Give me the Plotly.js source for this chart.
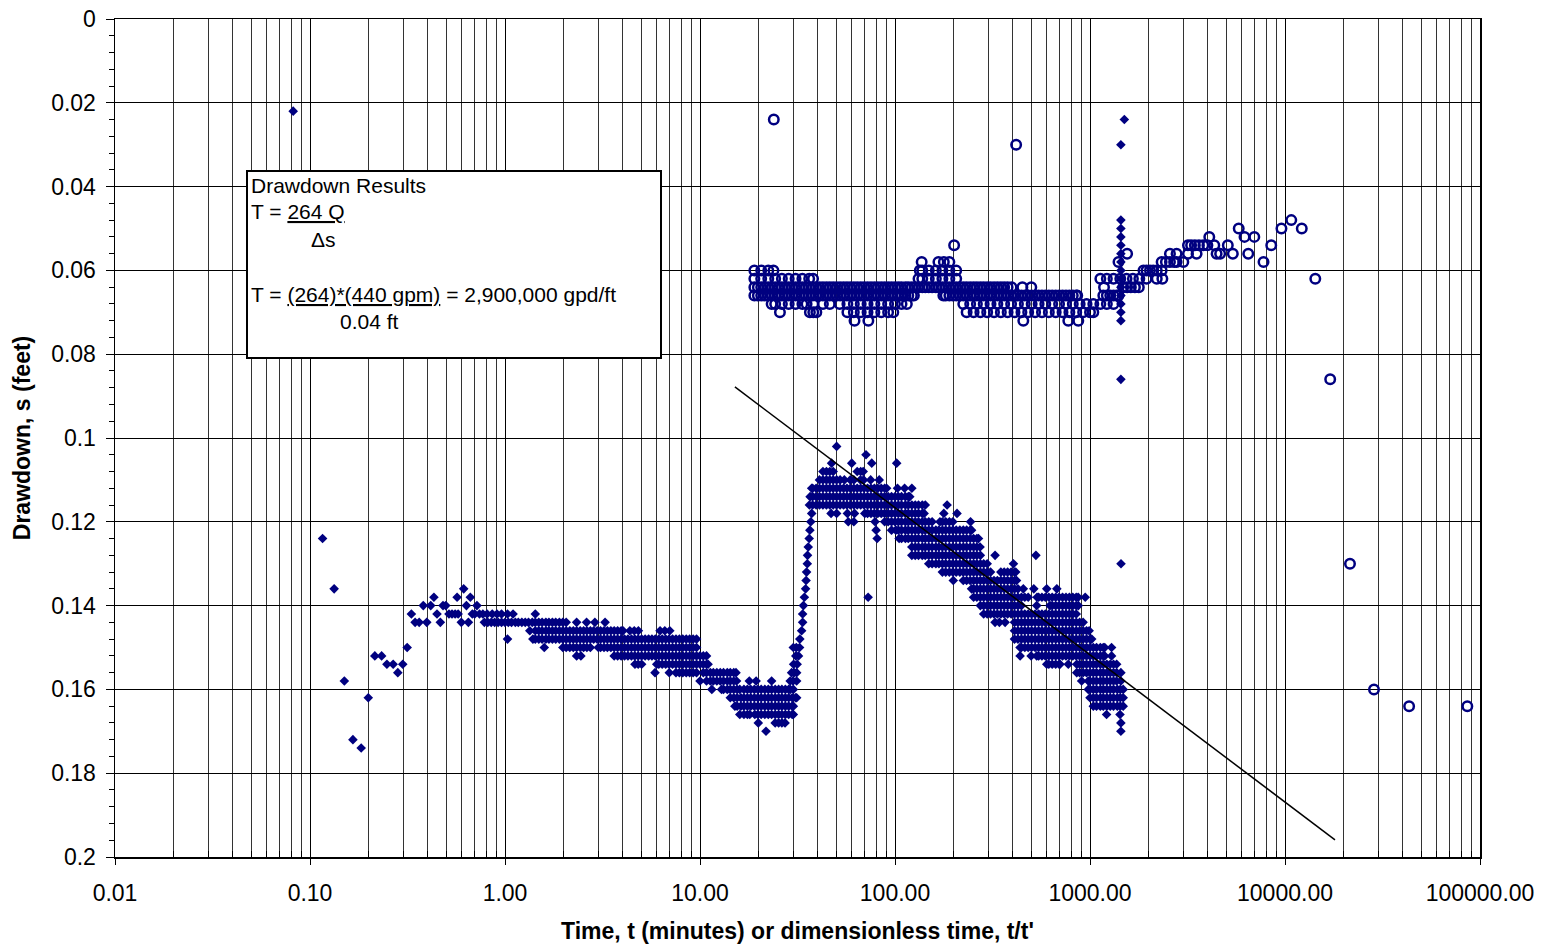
<!DOCTYPE html>
<html>
<head>
<meta charset="utf-8">
<script src="https://cdn.plot.ly/plotly-3.0.1.min.js"></script>
<style>
  html, body { margin: 0; padding: 0; background: #fff; }
  #chart { width: 1543px; height: 947px; }
</style>
</head>
<body>
<div id="chart"></div>
<script>
// ---- Pumping test readings: drawdown (ft) vs time (min), grouped by drawdown level ----
const drawdownLevels = [0.022, 0.024, 0.030, 0.048, 0.050, 0.052, 0.054, 0.056, 0.058, 0.060, 0.062, 0.064,
  0.066, 0.068, 0.070, 0.072, 0.086, 0.102, 0.104, 0.106, 0.108, 0.110, 0.112, 0.114, 0.116, 0.118, 0.120,
  0.122, 0.124, 0.126, 0.128, 0.130, 0.132, 0.134, 0.136, 0.138, 0.140, 0.142, 0.144, 0.146, 0.148, 0.150,
  0.152, 0.154, 0.156, 0.158, 0.160, 0.162, 0.164, 0.166, 0.168, 0.170, 0.172, 0.174];

const drawdownTimes = [
  [0.082],
  [1500],
  [1440],
  [1440], [1440], [1440], [1440], [1440], [1440], [1440], [1440], [1440], [1440], [1440], [1440], [1440],
  [1440],
  [50.2],
  [71],
  [47.3, 60, 76, 102],
  [42.7, 44.5, 46.3, 48.2, 64.0, 66.7, 68.7],
  [41.0, 42.7, 44.5, 46.3, 48.2, 50.2, 52.3, 55.0, 59.0, 61.5, 66.5, 69.0, 75.0, 83.0],
  [37.4, 37.8, 39.4, 41.0, 42.7, 44.5, 46.3, 48.2, 50.2, 52.3, 54.5, 56.7, 59.0, 61.5, 64.0, 66.7, 69.4, 72.3,
   75.3, 78.4, 81.6, 85.0, 88.5, 90.6, 103, 112, 122],
  [36.7, 37.8, 39.4, 41.0, 42.7, 44.5, 46.3, 48.2, 50.2, 52.3, 54.5, 56.7, 59.0, 61.5, 64.0, 66.7, 69.4, 72.3,
   75.3, 78.4, 81.6, 85.0, 88.5, 92.2, 96.0, 100, 104, 108, 113, 117, 119],
  [36.4, 37.8, 39.4, 41.0, 42.7, 44.5, 46.3, 48.2, 50.2, 52.3, 54.5, 56.7, 59.0, 61.5, 64.0, 66.7, 69.4, 72.3,
   75.3, 78.4, 81.6, 85.0, 88.5, 92.2, 96.0, 100, 104, 108, 113, 117, 122, 127, 132, 138, 143, 185],
  [37.4, 47.0, 50.2, 57.0, 62.0, 70.0, 72.3, 75.3, 78.4, 81.6, 85.0, 88.5, 92.2, 96.0, 100, 104, 108, 113, 117,
   122, 127, 132, 138, 141, 178, 208],
  [37.0, 57.6, 61.5, 79.0, 88.5, 92.2, 96.0, 100, 104, 108, 113, 117, 122, 127, 132, 138, 143, 149, 155, 170,
   175, 182, 190, 198, 244],
  [36.6, 80.0, 96.0, 101, 104, 108, 113, 117, 122, 127, 132, 138, 143, 149, 155, 162, 168, 175, 182, 190, 198,
   206, 215, 224, 233, 243, 247],
  [0.116, 36.3, 81.0, 105, 108, 113, 117, 122, 127, 132, 138, 143, 149, 155, 162, 168, 175, 182, 190, 198, 206,
   215, 224, 233, 243, 253, 263, 268],
  [35.9, 122, 127, 132, 138, 143, 149, 155, 162, 168, 175, 182, 190, 198, 206, 215, 224, 233, 243, 253, 263, 273],
  [35.6, 122, 127, 132, 138, 143, 149, 155, 162, 168, 175, 182, 190, 198, 206, 215, 224, 233, 243, 253, 263, 274,
   326, 528],
  [35.5, 149, 155, 162, 168, 175, 182, 190, 198, 206, 215, 224, 233, 243, 253, 263, 274, 285, 297, 405, 1442],
  [35.2, 175, 182, 190, 198, 206, 215, 224, 233, 243, 253, 263, 274, 285, 297, 309, 349, 363, 378, 394, 410, 416],
  [35.0, 199, 224, 233, 243, 253, 263, 274, 285, 297, 309, 322, 335, 349, 363, 378, 394, 410, 420],
  [0.133, 0.614, 34.8, 247, 253, 263, 274, 285, 297, 309, 322, 335, 349, 363, 378, 394, 410, 427, 455, 515, 600,
   676],
  [0.432, 0.568, 0.664, 34.3, 72.8, 253, 263, 274, 285, 297, 309, 322, 335, 349, 363, 378, 394, 410, 427, 445,
   463, 482, 535, 545, 567, 590, 615, 640, 667, 694, 723, 753, 784, 816, 850, 870, 945],
  [0.381, 0.416, 0.481, 0.497, 0.634, 0.718, 33.9, 274, 285, 297, 309, 322, 335, 349, 363, 378, 394, 410, 427,
   445, 533, 623, 640, 667, 694, 723, 753, 784, 816, 850, 871],
  [0.331, 0.448, 0.516, 0.535, 0.555, 0.575, 0.680, 0.700, 0.740, 0.770, 0.810, 0.860, 0.910, 0.960, 1.03, 1.10,
   1.43, 33.6, 285, 297, 309, 322, 335, 349, 363, 378, 394, 410, 427, 445, 463, 482, 502, 523, 545, 567, 590, 615,
   640, 667, 694, 723, 753, 784, 816, 850],
  [0.346, 0.363, 0.397, 0.466, 0.597, 0.649, 0.784, 0.816, 0.850, 0.885, 0.922, 0.960, 1.00, 1.04, 1.08, 1.13,
   1.17, 1.22, 1.27, 1.32, 1.38, 1.43, 1.49, 1.55, 1.62, 1.68, 1.75, 1.82, 1.90, 1.98, 2.06, 2.33, 2.62, 2.89,
   3.26, 33.6, 326, 343, 367, 410, 427, 445, 463, 482, 502, 523, 545, 567, 590, 615, 640, 667, 694, 723, 753,
   784, 816, 850, 885, 922],
  [1.34, 1.43, 1.49, 1.55, 1.62, 1.68, 1.75, 1.82, 1.90, 1.98, 2.06, 2.15, 2.24, 2.33, 2.43, 2.53, 2.63, 2.74,
   2.85, 2.97, 3.09, 3.22, 3.35, 3.49, 3.63, 3.78, 3.94, 4.03, 4.37, 4.60, 4.83, 6.24, 6.60, 7.00, 33.2, 410,
   427, 445, 463, 482, 502, 523, 545, 567, 590, 615, 640, 667, 694, 723, 753, 784, 816, 850, 885, 922, 960, 990],
  [1.03, 1.39, 1.43, 1.49, 1.55, 1.62, 1.68, 1.75, 1.82, 1.90, 1.98, 2.06, 2.15, 2.24, 2.33, 2.43, 2.53, 2.63,
   2.74, 2.85, 2.97, 3.09, 3.22, 3.35, 3.49, 3.63, 3.78, 3.94, 4.10, 4.27, 4.45, 4.63, 4.82, 5.02, 5.23, 5.45,
   5.67, 5.90, 6.15, 6.40, 6.67, 6.94, 7.23, 7.53, 7.84, 8.16, 8.50, 8.85, 9.22, 9.60, 32.5, 410, 427, 445, 463,
   482, 502, 523, 545, 567, 590, 615, 640, 667, 694, 723, 753, 784, 816, 850, 885, 922, 960, 1000, 1020],
  [0.315, 1.59, 1.98, 2.06, 2.15, 2.24, 2.33, 2.43, 2.53, 2.63, 2.74, 3.01, 3.09, 3.22, 3.35, 3.49, 3.63, 3.78,
   3.94, 4.10, 4.27, 4.45, 4.63, 4.82, 5.02, 5.23, 5.45, 5.67, 5.90, 6.15, 6.40, 6.67, 6.94, 7.23, 7.53, 7.84,
   8.16, 8.50, 8.85, 9.22, 9.60, 30.1, 31.2, 32.4, 438, 445, 463, 482, 502, 523, 545, 567, 590, 615, 640, 667,
   694, 723, 753, 784, 816, 850, 885, 922, 960, 1000, 1040, 1080, 1130, 1170, 1190, 1290],
  [0.215, 0.233, 2.33, 2.45, 3.63, 3.78, 3.94, 4.10, 4.27, 4.45, 4.63, 4.82, 5.02, 5.23, 5.45, 5.67, 5.90, 6.15,
   6.40, 6.67, 6.94, 7.23, 7.53, 7.84, 8.16, 8.50, 8.85, 9.22, 9.60, 10.0, 10.4, 10.8, 31.0, 32.0, 438, 499, 533,
   545, 567, 590, 615, 640, 667, 694, 723, 753, 784, 816, 850, 885, 922, 960, 1000, 1040, 1080, 1130, 1170, 1190,
   1290],
  [0.248, 0.267, 0.299, 4.64, 4.82, 5.02, 6.00, 6.15, 6.40, 6.67, 6.94, 7.23, 7.53, 7.84, 8.16, 8.50, 8.85, 9.22,
   9.60, 10.0, 10.4, 10.8, 11.0, 30.2, 31.5, 600, 615, 640, 667, 694, 702, 774, 855, 885, 922, 960, 1000, 1040,
   1080, 1130, 1170, 1220, 1270, 1320, 1370],
  [0.282, 5.88, 6.96, 7.53, 7.84, 8.16, 8.50, 8.85, 9.22, 9.60, 10.4, 10.8, 11.3, 11.7, 12.2, 12.7, 13.2, 13.8,
   14.3, 14.9, 15.3, 29.5, 30.4, 31.3, 855, 885, 922, 960, 1000, 1040, 1080, 1130, 1170, 1220, 1270, 1320, 1370,
   1440],
  [0.150, 10.0, 10.8, 11.3, 11.7, 12.2, 12.7, 13.2, 13.8, 14.3, 14.9, 15.4, 17.9, 19.4, 23.3, 29.0, 30.0, 31.3,
   906, 980, 1000, 1040, 1080, 1130, 1170, 1220, 1270, 1320, 1370, 1440],
  [11.5, 12.9, 13.2, 13.8, 14.3, 14.9, 15.5, 16.0, 16.8, 17.5, 18.2, 19.0, 19.8, 20.6, 21.5, 22.4, 23.3, 24.3,
   25.3, 26.3, 27.4, 28.5, 29.0, 30.1, 980, 1000, 1040, 1080, 1130, 1170, 1220, 1270, 1320, 1380, 1430, 1480],
  [0.199, 14.3, 14.9, 15.5, 16.2, 16.8, 17.5, 18.2, 19.0, 19.8, 20.6, 21.5, 22.4, 23.3, 24.3, 25.3, 26.3, 27.4,
   28.5, 29.7, 30.9, 31.3, 1000, 1040, 1080, 1130, 1170, 1220, 1270, 1320, 1380, 1430, 1480],
  [15.1, 15.5, 16.2, 16.8, 17.5, 18.2, 19.0, 19.8, 20.6, 21.5, 22.4, 23.3, 24.3, 25.3, 26.3, 27.4, 28.5, 29.7,
   30.1, 1040, 1080, 1130, 1170, 1220, 1270, 1320, 1380, 1430, 1480],
  [16.0, 16.8, 17.5, 18.0, 19.1, 19.8, 20.6, 21.5, 22.4, 23.3, 24.3, 25.3, 26.3, 27.4, 28.5, 29.7, 30.1, 1216, 1425],
  [19.9, 24.3, 25.3, 26.3, 27.3, 1440],
  [21.8, 1440],
  [0.166],
  [0.183]
];

// ---- Recovery readings: residual drawdown (ft) vs dimensionless time t/t' ----
const recoveryLevels = [0.024, 0.030, 0.048, 0.050, 0.052, 0.054, 0.056, 0.058, 0.060, 0.062, 0.064, 0.066,
  0.068, 0.070, 0.072, 0.086, 0.130, 0.160, 0.164];

const recoveryTimes = [
  [23.9],
  [418],
  [10770],
  [5790, 9590, 12190],
  [4090, 6200, 6960],
  [201, 3180, 3300, 3450, 3620, 3810, 4000, 4340, 5090, 8500],
  [1550, 2570, 2780, 3180, 3520, 4460, 4650, 5400, 6480],
  [137, 167, 178, 190, 1400, 2330, 2450, 2570, 2700, 2780, 3010, 7760],
  [19.0, 20.6, 22.4, 23.8, 134, 138, 149, 162, 175, 190, 206, 1880, 1950, 2030, 2110, 2200, 2330],
  [19.0, 20.6, 22.4, 24.3, 26.3, 28.5, 30.9, 33.5, 36.3, 38.0, 132, 138, 149, 162, 175, 190, 206, 1130, 1220,
   1320, 1430, 1540, 1660, 1790, 1950, 2200, 2350, 14300],
  [19.0, 19.8, 20.6, 21.5, 22.4, 23.3, 24.3, 25.3, 26.3, 27.4, 28.5, 29.7, 30.9, 32.2, 33.5, 34.9, 36.3, 37.8,
   39.4, 41.0, 42.7, 44.5, 46.3, 48.2, 50.2, 52.3, 54.5, 56.7, 59.0, 61.5, 64.0, 66.7, 69.4, 72.3, 75.3, 78.4,
   81.6, 85.0, 88.5, 92.2, 96.0, 100, 104, 108, 113, 117, 122, 127, 132, 138, 143, 149, 155, 162, 168, 175, 182,
   190, 198, 206, 215, 224, 233, 243, 253, 263, 274, 285, 297, 309, 322, 335, 349, 363, 378, 396, 450, 500, 1180,
   1480, 1550, 1620, 1700, 1780],
  [19.0, 19.8, 20.6, 21.5, 22.4, 23.3, 24.3, 25.3, 26.3, 27.4, 28.5, 29.7, 30.9, 32.2, 33.5, 34.9, 36.3, 37.8,
   39.4, 41.0, 42.7, 44.5, 46.3, 48.2, 50.2, 52.3, 54.5, 56.7, 59.0, 61.5, 64.0, 66.7, 69.4, 72.3, 75.3, 78.4,
   81.6, 85.0, 88.5, 92.2, 96.0, 100, 104, 108, 113, 117, 122, 125, 177, 182, 190, 198, 206, 215, 224, 233, 243,
   253, 263, 274, 285, 297, 309, 322, 335, 349, 363, 378, 394, 410, 427, 445, 463, 482, 502, 523, 545, 567, 590,
   615, 640, 667, 694, 723, 753, 784, 816, 850, 860, 1170, 1220, 1270, 1320, 1370, 1400],
  [23.3, 24.3, 26.3, 28.5, 30.9, 33.5, 35.2, 38.1, 42.7, 46.3, 52.0, 57.0, 61.5, 66.7, 72.3, 78.4, 85.0, 92.2,
   100, 108, 115, 224, 243, 263, 285, 309, 335, 363, 394, 427, 463, 502, 545, 590, 640, 694, 753, 816, 885, 960,
   1040, 1130, 1220, 1320],
  [25.7, 36.6, 38.1, 39.5, 57.0, 61.5, 66.7, 72.3, 78.4, 85.0, 92.2, 98.0, 233, 253, 274, 297, 322, 349, 378,
   410, 445, 482, 523, 567, 615, 667, 723, 784, 850, 922, 1000, 1040],
  [62.0, 73.0, 455, 774, 871],
  [17050],
  [21540],
  [28600],
  [43300, 86100]
];

// ---- Straight-line (Cooper-Jacob) fit through the late drawdown ----
const fitTime = [15.1, 18050];
const fitDrawdown = [0.0878, 0.1959];

// ---- Axis ticks ----
const xTickVals = [0.01, 0.1, 1, 10, 100, 1000, 10000, 100000];
const xTickText = ['0.01', '0.10', '1.00', '10.00', '100.00', '1000.00', '10000.00', '100000.00'];
const yTickVals = [0, 0.02, 0.04, 0.06, 0.08, 0.1, 0.12, 0.14, 0.16, 0.18, 0.2];
const yTickText = ['0', '0.02', '0.04', '0.06', '0.08', '0.1', '0.12', '0.14', '0.16', '0.18', '0.2'];

// minor ticks: 2..9 within each decade on x, every 0.004 ft on y
const xMinor = [];
for (let k = -2; k < 5; k++) for (let m = 2; m <= 9; m++) xMinor.push(m * Math.pow(10, k));
const yMinor = [];
for (let i = 1; i < 50; i++) if (i % 5 !== 0) yMinor.push(+(i * 0.004).toFixed(3));

// flatten level-grouped readings into x/y columns
function flatten(levels, times) {
  const x = [], y = [];
  levels.forEach((s, i) => times[i].forEach(t => { x.push(t); y.push(s); }));
  return { x, y };
}
const dd = flatten(drawdownLevels, drawdownTimes);
const rc = flatten(recoveryLevels, recoveryTimes);

// ---- Page geometry ----
const W = 1543, H = 947;
const PL = 115, PR = 1480, PT = 19, PB = 857;
const fx = p => (p - PL) / (PR - PL);
const fy = p => (PB - p) / (PB - PT);

const NAVY = '#000080';
const FONT = '"Liberation Sans", Arial, Helvetica, sans-serif';

const traces = [
  {
    type: 'scatter', mode: 'markers', name: 'Recovery',
    x: rc.x, y: rc.y,
    marker: { symbol: 'circle-open', size: 9.5, color: NAVY, line: { width: 2.5, color: NAVY } },
    hoverinfo: 'x+y'
  },
  {
    type: 'scatter', mode: 'markers', name: 'Drawdown',
    x: dd.x, y: dd.y,
    marker: { symbol: 'diamond', size: 7.4, color: NAVY, line: { width: 0 } },
    hoverinfo: 'x+y'
  },
  {
    type: 'scatter', mode: 'lines', name: 'Straight-line fit',
    x: fitTime, y: fitDrawdown,
    line: { color: '#000', width: 1.5 },
    hoverinfo: 'skip'
  }
];

const boxFont = { family: FONT, size: 21, color: '#000' };
function note(text, xp, yp) {
  return { xref: 'paper', yref: 'paper', x: fx(xp), y: fy(yp), xanchor: 'left', yanchor: 'middle',
           text: text, showarrow: false, font: boxFont, borderpad: 0 };
}

const layout = {
  width: W, height: H,
  margin: { l: PL, r: W - PR, t: PT, b: H - PB, pad: 0 },
  paper_bgcolor: '#fff', plot_bgcolor: '#fff',
  showlegend: false,
  font: { family: FONT, size: 23, color: '#000' },
  xaxis: {
    type: 'log', range: [-2, 5], autorange: false,
    tickmode: 'array', tickvals: xTickVals, ticktext: xTickText,
    ticks: 'outside', ticklen: 6, tickwidth: 1, tickcolor: '#000',
    ticklabelstandoff: 9,
    tickfont: { family: FONT, size: 23, color: '#000' },
    showgrid: true, gridcolor: '#000', gridwidth: 1,
    minor: { tickmode: 'array', tickvals: xMinor, ticks: 'inside', ticklen: 6, tickcolor: '#000',
             showgrid: true, gridcolor: '#333', gridwidth: 1 },
    showline: true, linecolor: '#000', linewidth: 1.5, mirror: true,
    zeroline: false, automargin: false, fixedrange: true,
    title: { text: "<b>Time, t (minutes) or dimensionless time, t/t'</b>",
             font: { family: FONT, size: 23, color: '#000' }, standoff: 18 }
  },
  yaxis: {
    range: [0.2, 0], autorange: false,
    tickmode: 'array', tickvals: yTickVals, ticktext: yTickText,
    ticks: 'outside', ticklen: 8, tickwidth: 1, tickcolor: '#000',
    ticklabelstandoff: 5,
    tickfont: { family: FONT, size: 23, color: '#000' },
    showgrid: true, gridcolor: '#000', gridwidth: 1,
    minor: { tickmode: 'array', tickvals: yMinor, ticks: 'outside', ticklen: 5, tickcolor: '#000', showgrid: false },
    showline: true, linecolor: '#000', linewidth: 1.5, mirror: true,
    zeroline: false, automargin: false, fixedrange: true,
    title: { text: '<b>Drawdown, s (feet)</b>', font: { family: FONT, size: 23, color: '#000' }, standoff: 14 }
  },
  shapes: [
    { type: 'rect', xref: 'paper', yref: 'paper', x0: fx(247), x1: fx(661), y0: fy(358), y1: fy(171),
      line: { color: '#000', width: 2 }, fillcolor: '#fff', layer: 'above' }
  ],
  annotations: [
    note('Drawdown Results', 250, 185),
    note('T = <u>264 Q</u>', 250, 212),
    note('\u0394s', 310, 239),
    note('T = <u>(264)*(440 gpm)</u> = 2,900,000 gpd/ft', 250, 294),
    note('0.04 ft', 339, 321)
  ]
};

Plotly.newPlot('chart', traces, layout, { displayModeBar: false, staticPlot: true });
</script>
</body>
</html>
